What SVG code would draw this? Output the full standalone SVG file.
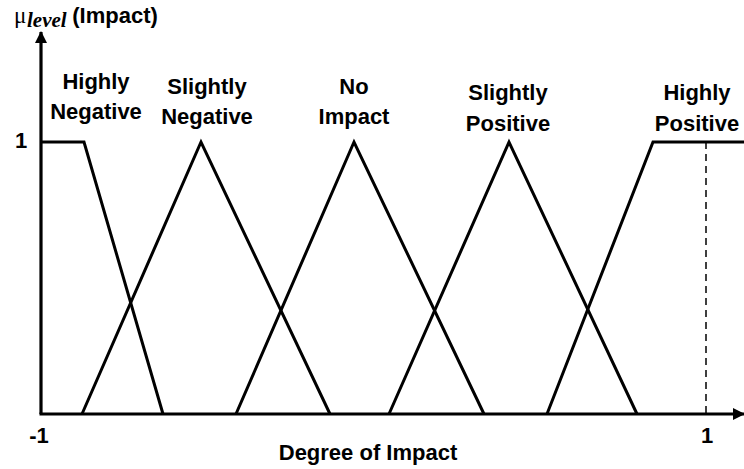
<svg xmlns="http://www.w3.org/2000/svg" width="744" height="469" viewBox="0 0 744 469">
<style>
.t{font-family:"Liberation Sans",Arial,sans-serif;font-weight:bold;font-size:22px;fill:#000;text-anchor:middle}
.ax{stroke:#000;stroke-width:3.2;fill:none}
.mf{stroke:#000;stroke-width:3;fill:none;stroke-linejoin:miter}
</style>
<defs>
<marker id="ah" viewBox="0 0 12 12" refX="11" refY="6" markerWidth="12" markerHeight="12" markerUnits="userSpaceOnUse" orient="auto">
<path d="M0,0 L12,6 L0,12 z" fill="#000"/>
</marker>
</defs>
<rect width="744" height="469" fill="#fff"/>
<g id="axes">
<line class="ax" x1="41" y1="414" x2="41" y2="32" marker-end="url(#ah)"/>
<line class="ax" x1="39.5" y1="414" x2="744" y2="414" marker-end="url(#ah)"/>
<line x1="706" y1="142" x2="706" y2="414" stroke="#000" stroke-width="1.5" stroke-dasharray="7,5"/>
</g>
<g id="connectors">
<polyline id="hn" class="mf" points="41,142 84,142 163,414"/>
<polyline id="sn" class="mf" points="82,414 201,142 330,414"/>
<polyline id="ni" class="mf" points="236,414 354,142 484,414"/>
<polyline id="sp" class="mf" points="389,414 509,142 637,414"/>
<polyline id="hp" class="mf" points="547,414 653,142 744,142"/>
</g>
<g id="ylabel">
<text x="14" y="23" font-family="'Liberation Serif',serif" font-size="23">μ</text>
<text x="27" y="27" font-family="'Liberation Serif',serif" font-style="italic" font-weight="bold" font-size="21">level</text>
<text x="115" y="23" class="t" font-size="21">(Impact)</text>
</g>
<g id="ticks">
<text x="21" y="148" class="t">1</text>
<text x="39" y="443" class="t">-1</text>
<text x="707" y="443" class="t">1</text>
<text x="368" y="460" class="t" font-size="21">Degree of Impact</text>
</g>
<g id="label-hn"><text x="96" y="89" class="t">Highly</text><text x="96" y="119" class="t">Negative</text></g>
<g id="label-sn"><text x="207" y="94" class="t">Slightly</text><text x="207" y="124" class="t">Negative</text></g>
<g id="label-ni"><text x="354" y="94" class="t">No</text><text x="354" y="124" class="t">Impact</text></g>
<g id="label-sp"><text x="508" y="100" class="t">Slightly</text><text x="508" y="131" class="t">Positive</text></g>
<g id="label-hp"><text x="697" y="100" class="t">Highly</text><text x="697" y="131" class="t">Positive</text></g>
</svg>
